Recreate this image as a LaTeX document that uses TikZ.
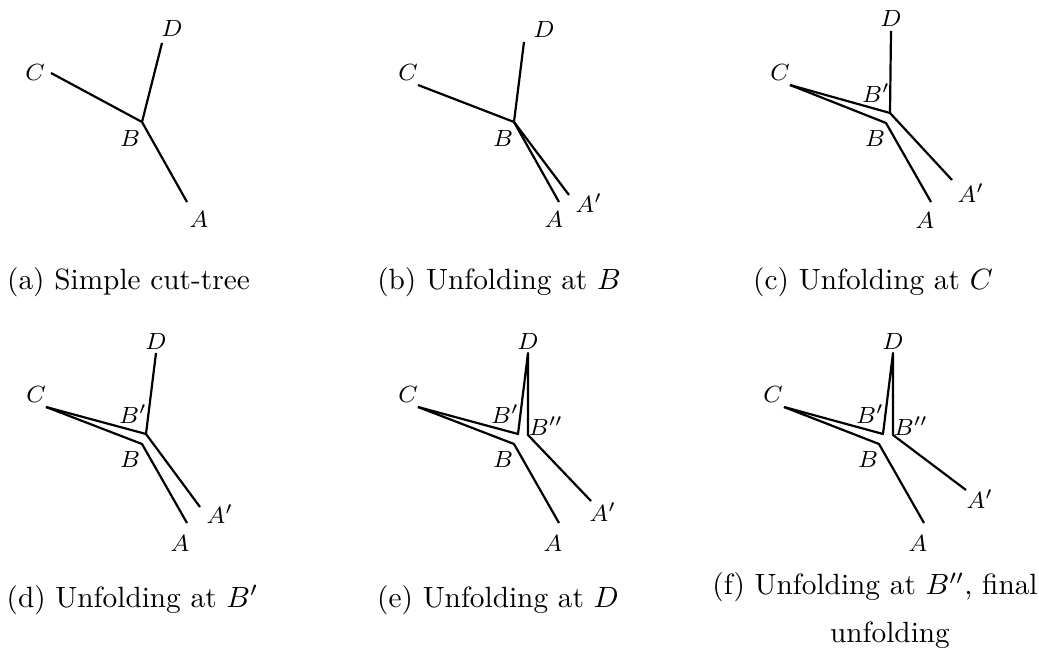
\documentclass[tikz,border=0pt]{standalone}
\begin{document}
\begin{tikzpicture}[x=0.3413pt,y=-0.3413pt,
  edge/.style={line width=0.75pt, line join=round},
  lbl/.style={inner sep=0pt, font=\fontsize{8}{9.6}\selectfont},
  captxt/.style={anchor=base, inner sep=0pt, font=\fontsize{10}{12}\selectfont}]
\useasboundingbox (0,0) rectangle (1039,650);

% ---------- (a) ----------
\coordinate (aC) at (51,73);
\coordinate (aB) at (142,122);
\coordinate (aD) at (162,43);
\coordinate (aA) at (187,202);
\draw[edge] (aC) -- (aB) -- (aA);
\draw[edge] (aB) -- (aD);
\node[lbl] (aCl) at (35,72) {$C$};
\node[lbl] (aBl) at (130,138) {$B$};
\node[lbl] (aDl) at (172,28) {$D$};
\node[lbl] (aAl) at (199,219) {$A$};
\node[captxt] (capa) at (128.5,290) {(a) Simple cut-tree};

% ---------- (b) ----------
\coordinate (bC) at (418,85);
\coordinate (bB) at (514,122);
\coordinate (bD) at (524,42);
\coordinate (bA) at (559,202);
\coordinate (bAp) at (569,195);
\draw[edge] (bC) -- (bB) -- (bA);
\draw[edge] (bB) -- (bD);
\draw[edge] (bB) -- (bAp);
\node[lbl] (bCl) at (408,72) {$C$};
\node[lbl] (bBl) at (503,138) {$B$};
\node[lbl] (bDl) at (544,29) {$D$};
\node[lbl] (bAl) at (554,219) {$A$};
\node[lbl] (bApl) at (589,203) {$A'$};
\node[captxt] (capb) at (499,290) {(b) Unfolding at $B$};

% ---------- (c) ----------
\coordinate (cC) at (790,85);
\coordinate (cBp) at (890,113);
\coordinate (cB) at (886,123);
\coordinate (cD) at (891,31);
\coordinate (cA) at (931,202);
\coordinate (cAp) at (952,180);
\draw[edge] (cC) -- (cB) -- (cA);
\draw[edge] (cC) -- (cBp) -- (cAp);
\draw[edge] (cBp) -- (cD);
\node[lbl] (cCl) at (780,72) {$C$};
\node[lbl] (cBpl) at (876,93) {$B'$};
\node[lbl] (cBl) at (875,138) {$B$};
\node[lbl] (cDl) at (891,18) {$D$};
\node[lbl] (cAl) at (925,220) {$A$};
\node[lbl] (cApl) at (971,193) {$A'$};
\node[captxt] (capc) at (873,290) {(c) Unfolding at $C$};

% ---------- (d) ----------
\coordinate (dC) at (46,407);
\coordinate (dBp) at (146,434);
\coordinate (dB) at (142,444);
\coordinate (dD) at (156,353);
\coordinate (dA) at (187,523);
\coordinate (dAp) at (200,507);
\draw[edge] (dC) -- (dB) -- (dA);
\draw[edge] (dC) -- (dBp) -- (dAp);
\draw[edge] (dBp) -- (dD);
\node[lbl] (dCl) at (36,394) {$C$};
\node[lbl] (dBpl) at (133,414) {$B'$};
\node[lbl] (dBl) at (130,459) {$B$};
\node[lbl] (dDl) at (156,341) {$D$};
\node[lbl] (dAl) at (180,543) {$A$};
\node[lbl] (dApl) at (220,514) {$A'$};
\node[captxt] (capd) at (132.5,607) {(d) Unfolding at $B'$};

% ---------- (e) ----------
\coordinate (eC) at (418,407);
\coordinate (eBp) at (518,434);
\coordinate (eB) at (514,444);
\coordinate (eD) at (528,353);
\coordinate (eBpp) at (528,435);
\coordinate (eA) at (559,523);
\coordinate (eAp) at (591,501);
\draw[edge] (eC) -- (eB) -- (eA);
\draw[edge] (eC) -- (eBp) -- (eD) -- (eBpp) -- (eAp);
\node[lbl] (eCl) at (408,394) {$C$};
\node[lbl] (eBpl) at (505,414) {$B'$};
\node[lbl] (eBl) at (503,459) {$B$};
\node[lbl] (eDl) at (528,341) {$D$};
\node[lbl] (eBppl) at (546,426) {$B''$};
\node[lbl] (eAl) at (553,543) {$A$};
\node[lbl] (eApl) at (603,512) {$A'$};
\node[captxt] (cape) at (498,607) {(e) Unfolding at $D$};

% ---------- (f) ----------
\coordinate (fC) at (784,407);
\coordinate (fBp) at (883,434);
\coordinate (fB) at (879,444);
\coordinate (fD) at (893,353);
\coordinate (fBpp) at (893,435);
\coordinate (fA) at (924,523);
\coordinate (fAp) at (966,490);
\draw[edge] (fC) -- (fB) -- (fA);
\draw[edge] (fC) -- (fBp) -- (fD) -- (fBpp) -- (fAp);
\node[lbl] (fCl) at (773,394) {$C$};
\node[lbl] (fBpl) at (870,414) {$B'$};
\node[lbl] (fBl) at (868,459) {$B$};
\node[lbl] (fDl) at (893,341) {$D$};
\node[lbl] (fBppl) at (911,426) {$B''$};
\node[lbl] (fAl) at (918,543) {$A$};
\node[lbl] (fApl) at (980,499) {$A'$};
\node[captxt] (capf) at (875,595) {(f) Unfolding at $B''$, final};
\node[captxt] (capf2) at (890,642) {unfolding};
\end{tikzpicture}
\end{document}
